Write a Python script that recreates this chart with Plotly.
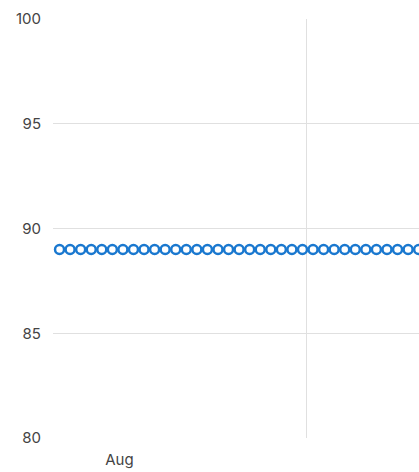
import pandas as pd
import plotly.graph_objects as go

# Readings taken every 21 hours, all holding at 89
start_time = "2023-08-11 13:00"
reading_interval = "21h"
readings = [89, 89, 89, 89, 89, 89, 89, 89, 89, 89, 89, 89,
            89, 89, 89, 89, 89, 89, 89, 89, 89, 89, 89, 89,
            89, 89, 89, 89, 89, 89, 89, 89, 89, 89, 89, 89]
timestamps = pd.date_range(start_time, periods=len(readings), freq=reading_interval)

x_window = ["2023-08-11 00:00", "2023-09-10 07:40"]
y_window = [80, 100]
y_ticks = [80, 85, 90, 95, 100]

line_blue = "#1a78cf"
grid_grey = "#e0e0e0"
label_grey = "#444444"

fig = go.Figure(
    go.Scatter(
        x=timestamps,
        y=readings,
        mode="markers",
        marker=dict(
            symbol="circle-open",
            size=9,
            color=line_blue,
            line=dict(width=2.5, color=line_blue),
        ),
        showlegend=False,
    )
)

fig.update_layout(
    width=419,
    height=472,
    margin=dict(l=53, r=0, t=19, b=34),
    paper_bgcolor="white",
    plot_bgcolor="white",
    font=dict(family="Inter", size=15, color=label_grey),
)

fig.update_xaxes(
    type="date",
    range=x_window,
    dtick="M1",
    tickformat="%b",
    ticklabelmode="period",
    showgrid=True,
    gridcolor=grid_grey,
    gridwidth=1,
    showline=False,
    zeroline=False,
    ticks="outside",
    ticklen=8,
    tickcolor="rgba(0,0,0,0)",
)

fig.update_yaxes(
    range=y_window,
    tickvals=y_ticks,
    showgrid=True,
    gridcolor=grid_grey,
    gridwidth=1,
    showline=False,
    zeroline=False,
    ticks="outside",
    ticklen=8,
    tickcolor="rgba(0,0,0,0)",
)

fig.write_html("out.html")
